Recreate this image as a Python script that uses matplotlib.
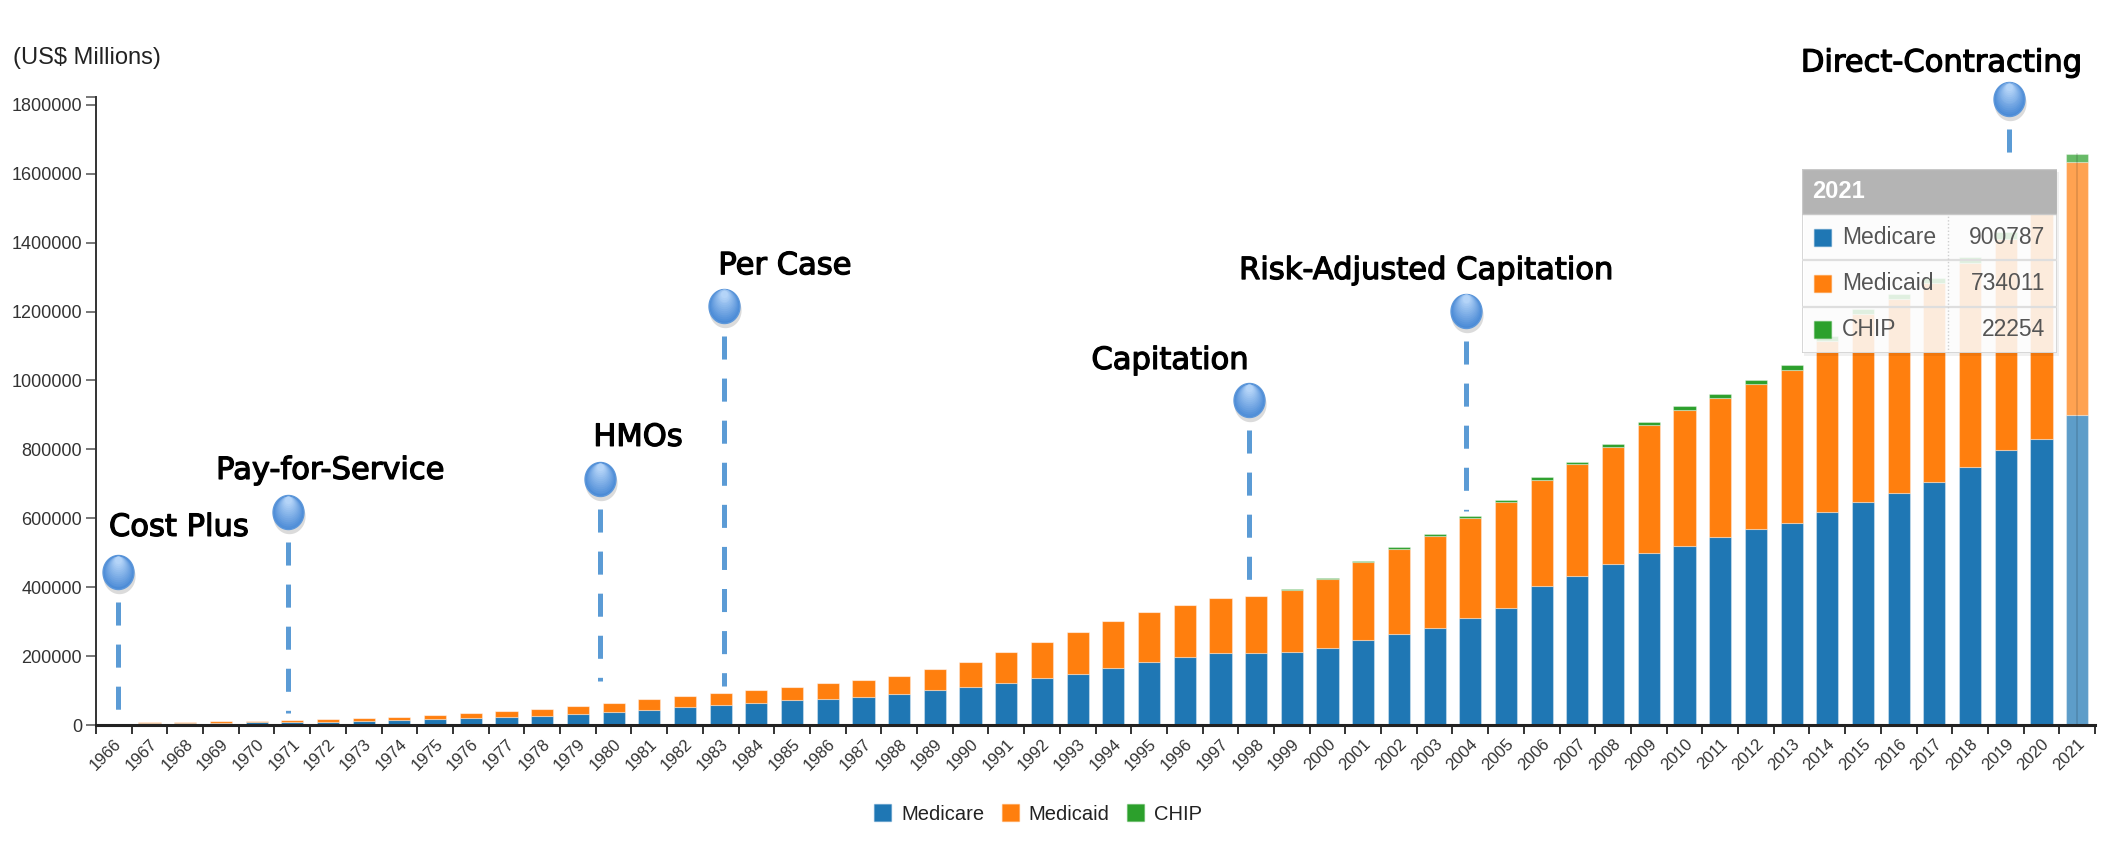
import matplotlib
matplotlib.use("Agg")
import matplotlib.pyplot as plt
import matplotlib.transforms as mtransforms
import matplotlib.patheffects as pe
import numpy as np
from matplotlib.patches import Rectangle, Patch
from matplotlib.path import Path
from matplotlib.colors import to_rgba

# ---------------- data (US$ millions) ----------------
years = list(range(1966, 2022))
medicare = [1600, 4700, 5800, 6800, 7700, 8500, 9400, 10800, 13400, 16400,
            19700, 23100, 26800, 31400, 37800, 44700, 51800, 58900, 65000, 71400,
            76600, 82600, 88800, 100500, 110200, 121000, 135800, 148700, 166500, 184000,
            197500, 208600, 209500, 212900, 224400, 247700, 265200, 281800, 310800, 339000,
            402000, 432200, 466000, 498500, 519000, 545500, 568000, 587700, 617500, 646000,
            674300, 704000, 749500, 799000, 829000, 900787]
medicaid = [1300, 2900, 3600, 4400, 5300, 6600, 8100, 9500, 11100, 13400,
            15300, 17600, 19600, 22600, 26000, 29500, 31500, 34500, 37500, 40000,
            44500, 49000, 54500, 61500, 73700, 92000, 106500, 122000, 134000, 144500,
            150000, 159500, 165500, 179500, 200300, 225000, 246000, 268000, 290000, 308000,
            310000, 324000, 341000, 372000, 396000, 404000, 421500, 444000, 498000, 545500,
            562000, 578000, 590000, 613000, 678000, 734011]
chip = [0] * 32 + [700, 2000, 3000, 4200, 5300, 6000, 6900, 7100,
                   7700, 8500, 9300, 10100, 11000, 11500, 11800, 12200, 13400, 14600,
                   15900, 16800, 17600, 19000, 17500, 22254]
series_names = ["Medicare", "Medicaid", "CHIP"]
series_colors = ["#1f77b4", "#ff7f0e", "#2ca02c"]

milestone_labels = ["Cost Plus", "Pay-for-Service", "HMOs", "Per Case",
                    "Capitation", "Risk-Adjusted Capitation", "Direct-Contracting"]
milestone_years = [1966, 1971, 1980, 1983, 1998, 2004, 2019]

# ---------------- layout (not data) ----------------
W, H = 2116, 848
ms_xshift = [0.11, -0.12, -0.38, 0.09, -0.2, -0.12, 0.1]          # in bar slots
ms_circle_y = [443e3, 617e3, 713e3, 1217e3, 942e3, 1203e3, 1817e3]
ms_line_end = [35e3, 35e3, 128e3, 112e3, 418e3, 620e3, 1600e3]
ms_text_off = [(61, 45), (42, 42), (38, 42), (61, 40), (-79, 40), (-40, 40), (-68, 36)]

plt.rcParams["font.family"] = ["Liberation Sans", "DejaVu Sans"]

fig = plt.figure(figsize=(W / 100, H / 100), dpi=100)
ax_l, ax_r, ax_b, ax_t = 96, 2095, 725, 97
ax = fig.add_axes([ax_l / W, 1 - ax_b / H, (ax_r - ax_l) / W, (ax_b - ax_t) / H])

x = np.arange(len(years))
med = np.array(medicare, float)
mcd = np.array(medicaid, float)
chp = np.array(chip, float)
n = len(years)


def colors_for(c):
    cols = [to_rgba(c)] * n
    cols[-1] = to_rgba(c, 0.72)
    return cols


bw = 0.62
edge = (1, 1, 1, 0.35)
ax.bar(x, med, bw, color=colors_for(series_colors[0]), edgecolor=edge, linewidth=0.8, zorder=2)
ax.bar(x, mcd, bw, bottom=med, color=colors_for(series_colors[1]), edgecolor=edge, linewidth=0.8, zorder=2)
ax.bar(x, chp, bw, bottom=med + mcd, color=colors_for(series_colors[2]), edgecolor=edge, linewidth=0.8, zorder=2)
total = med + mcd + chp
ax.plot([x[-1], x[-1]], [0, total[-1]], color=(0, 0, 0, 0.12), lw=1.3, zorder=3)

ymax = total.max() * 1.1
ax.set_xlim(-0.5, n - 0.5)
ax.set_ylim(0, ymax)

# axes styling
for s in ["top", "right"]:
    ax.spines[s].set_visible(False)
ax.spines["left"].set_color("#333333")
ax.spines["left"].set_linewidth(1.4)
ax.spines["bottom"].set_color("#222222")
ax.spines["bottom"].set_linewidth(2.2)
ax.spines["bottom"].set_zorder(4)

yt = list(np.arange(0, 1800001, 200000)) + [ymax]
ax.set_yticks(yt)
ax.set_yticklabels([f"{int(v)}" for v in yt[:-1]] + [""])
ax.tick_params(axis="y", length=7, width=1.4, color="#777777", labelsize=13,
               labelcolor="#333333", pad=3)

ax.set_xticks(np.arange(-0.5, n, 1.0))
ax.set_xticklabels([])
ax.set_xticks(x, minor=True)
ax.set_xticklabels([str(y) for y in years], minor=True, rotation=45, ha="right",
                   rotation_mode="anchor")
ax.tick_params(axis="x", which="major", length=6.5, width=1.4, color="#333333")
ax.tick_params(axis="x", which="minor", length=0, pad=8, labelsize=12, labelcolor="#333333")

fig.text(13 / W, 1 - 58 / H, "(US$ Millions)", ha="left", va="center", fontsize=17, color="#222222")

# ---------------- milestone markers ----------------
fig.canvas.draw()
px_to_data = (ax.get_ylim()[1] - ax.get_ylim()[0]) / (ax_b - ax_t)

theta = np.linspace(0, 2 * np.pi, 80)
ell = Path(np.column_stack([np.cos(theta), 1.1 * np.sin(theta)]), closed=True)

dash_color = "#5b9bd5"
for lab, yr, dx, cy, ly, (tox, toy) in zip(milestone_labels, milestone_years, ms_xshift,
                                           ms_circle_y, ms_line_end, ms_text_off):
    xi = years.index(yr) + dx
    top = cy - 30 * px_to_data
    ax.plot([xi, xi], [top, ly], color=dash_color, lw=3.6,
            dashes=(16.6 / 3.6, 13.7 / 3.6), dash_capstyle="butt", zorder=6, clip_on=False)
    # shadow
    ax.plot([xi], [cy], marker=ell, ms=25.5, mfc=(0, 0, 0, 0.14), mec="none", zorder=6,
            clip_on=False,
            transform=mtransforms.offset_copy(ax.transData, fig, x=1, y=-4, units="dots"))
    # gradient body
    c0 = np.array(to_rgba("#4a8ad6"))
    c1 = np.array(to_rgba("#b4d4f8"))
    steps = 14
    for k in range(steps):
        t = k / (steps - 1)
        col = c0 * (1 - t) + c1 * t
        size = 24.5 * (1 - 0.78 * t)
        off = 12 * t
        ax.plot([xi], [cy], marker=ell, ms=size, mfc=col, mec="#5e98da" if k == 0 else "none",
                mew=1.0, zorder=7, clip_on=False,
                transform=mtransforms.offset_copy(ax.transData, fig, x=0, y=off, units="dots"))
    ax.annotate(lab, (xi, cy), xytext=(tox, toy), textcoords="offset pixels",
                ha="center", va="center", fontsize=22, family="DejaVu Sans",
                color="#000000", zorder=8, annotation_clip=False,
                path_effects=[pe.withStroke(linewidth=0.9, foreground="black")])

# ---------------- legend ----------------
handles = [Patch(facecolor=c, edgecolor=to_rgba(c, 0.35), linewidth=1.0) for c in series_colors]
fig.legend(handles, series_names, loc="center", bbox_to_anchor=(1038 / W, 1 - 814 / H),
           ncol=3, frameon=False, fontsize=14.5, handlelength=0.85, handleheight=0.85,
           handletextpad=0.5, columnspacing=0.85, labelcolor="#222222")

# ---------------- tooltip ----------------
tx0, tx1, ty0, ty1 = 1802, 2057, 169, 353
tw, th = tx1 - tx0, ty1 - ty0
sh = fig.add_axes([(tx0 + 2) / W, 1 - (ty1 + 3) / H, tw / W, th / H], zorder=9)
sh.set_axis_off()
sh.add_patch(Rectangle((0, 0), 1, 1, transform=sh.transAxes, facecolor=(0, 0, 0, 0.06),
                       edgecolor="none"))
tip = fig.add_axes([tx0 / W, 1 - ty1 / H, tw / W, th / H], zorder=10)
tip.set_xlim(0, 1)
tip.set_ylim(0, 1)
tip.set_axis_off()
tip.add_patch(Rectangle((0, 0), 1, 1, facecolor=(1, 1, 1, 0.86), edgecolor="#d0d0d0", lw=1.2))
hdr_y = (ty1 - 214) / th
tip.add_patch(Rectangle((0, hdr_y), 1, 1 - hdr_y, facecolor="#b4b4b4", edgecolor="#c8c8c8", lw=1.0))
tip.text((1812 - tx0) / tw, (ty1 - 192) / th, str(years[-1]), color="white", fontsize=17,
         fontweight="bold", ha="left", va="center")
row_vals = [medicare[-1], medicaid[-1], chip[-1]]
row_h = hdr_y / 3
for i, (nm, c, v) in enumerate(zip(series_names, series_colors, row_vals)):
    yc = hdr_y - row_h * (i + 0.5)
    if i > 0:
        tip.plot([0, 1], [hdr_y - row_h * i] * 2, color="#dedede", lw=1.6)
    sw, shh = 17 / tw, 17 / th
    tip.add_patch(Rectangle(((1814 - tx0) / tw, yc - shh / 2), sw, shh, facecolor=c,
                            edgecolor=to_rgba(c, 0.4), lw=1))
    tip.text((1842 - tx0) / tw, yc, nm, color="#555555", fontsize=16.5, ha="left", va="center")
    tip.text((2045 - tx0) / tw, yc, f"{v}", color="#555555", fontsize=16.5, ha="right", va="center")
tip.plot([(1948 - tx0) / tw] * 2, [0, hdr_y], color="#cfcfcf", lw=1.0, ls=(0, (1, 1.5)))

fig.savefig("out.png", dpi=100)
